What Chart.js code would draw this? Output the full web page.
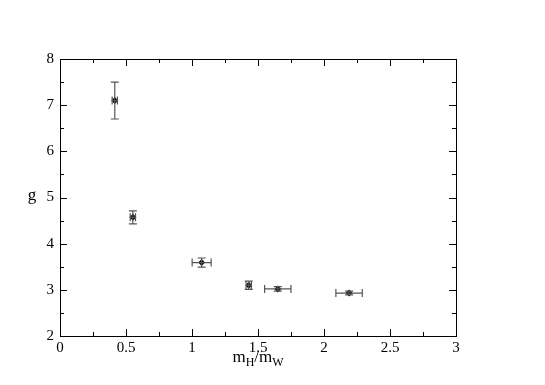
<!DOCTYPE html>
<html>
<head>
<meta charset="utf-8">
<script src="https://cdn.jsdelivr.net/npm/chart.js@4"></script>
<style>
  html, body { margin: 0; padding: 0; background: #fff; }
  #wrap { width: 545px; height: 385px; }
</style>
</head>
<body>
<div id="wrap"><canvas id="mainChart" width="545" height="385"></canvas></div>
<script>
// mass ratio m_H/m_W, coupling g and their errors
const massRatio = [0.415, 0.552, 1.073, 1.43, 1.65, 2.19]
const massRatioErr = [0.02, 0.02, 0.072, 0.02, 0.1, 0.1]
const coupling = [7.1, 4.57, 3.59, 3.1, 3.02, 2.93]
const couplingErr = [0.4, 0.14, 0.1, 0.09, 0.05, 0.04]

const xTicks = [0, 0.5, 1, 1.5, 2, 2.5, 3]
const yTicks = [2, 3, 4, 5, 6, 7, 8]

let serifFont = "'Liberation Serif', 'DejaVu Serif', serif"

// error bars, drawn through the chart's own scales
const errorBarPlugin = {
    id: 'errorBars',
    afterDatasetsDraw(chart) {
        const ctx = chart.ctx
        const xs = chart.scales.x
        const ys = chart.scales.y
        ctx.save()
        ctx.strokeStyle = '#555'
        ctx.lineWidth = 1.2
        let cap = 4
        massRatio.forEach((mx, i) => {
            let px = xs.getPixelForValue(mx)
            let py = ys.getPixelForValue(coupling[i])
            let xl = xs.getPixelForValue(mx - massRatioErr[i])
            let xr = xs.getPixelForValue(mx + massRatioErr[i])
            let yt = ys.getPixelForValue(coupling[i] + couplingErr[i])
            let yb = ys.getPixelForValue(coupling[i] - couplingErr[i])
            ctx.beginPath()
            ctx.moveTo(xl, py); ctx.lineTo(xr, py)
            ctx.moveTo(xl, py - cap); ctx.lineTo(xl, py + cap)
            ctx.moveTo(xr, py - cap); ctx.lineTo(xr, py + cap)
            ctx.moveTo(px, yt); ctx.lineTo(px, yb)
            ctx.moveTo(px - cap, yt); ctx.lineTo(px + cap, yt)
            ctx.moveTo(px - cap, yb); ctx.lineTo(px + cap, yb)
            ctx.stroke()
        })
        ctx.restore()
    }
}

// frame, inward ticks on all four sides and the axis titles
const framePlugin = {
    id: 'frame',
    afterDraw(chart) {
        const ctx = chart.ctx
        const a = chart.chartArea
        const xs = chart.scales.x
        const ys = chart.scales.y
        ctx.save()
        ctx.strokeStyle = '#000'
        ctx.lineWidth = 1
        ctx.strokeRect(a.left + 0.5, a.top + 0.5, a.right - a.left, a.bottom - a.top)
        ctx.beginPath()
        for (let v = 0; v <= 3.0001; v += 0.25) {
            let px = Math.round(xs.getPixelForValue(v)) + 0.5
            let len = (Math.abs(v * 2 - Math.round(v * 2)) < 0.01) ? 7 : 4
            ctx.moveTo(px, a.bottom); ctx.lineTo(px, a.bottom - len)
            ctx.moveTo(px, a.top); ctx.lineTo(px, a.top + len)
        }
        for (let v = 2; v <= 8.0001; v += 0.5) {
            let py = Math.round(ys.getPixelForValue(v)) + 0.5
            let len = (Math.abs(v - Math.round(v)) < 0.01) ? 7 : 4
            ctx.moveTo(a.left, py); ctx.lineTo(a.left + len, py)
            ctx.moveTo(a.right, py); ctx.lineTo(a.right - len, py)
        }
        ctx.stroke()

        ctx.fillStyle = '#000'
        ctx.textBaseline = 'alphabetic'
        // y title
        ctx.font = '17px ' + serifFont
        ctx.textAlign = 'center'
        ctx.fillText('g', 32, 200)
        // x title m_H/m_W
        let cx = (a.left + a.right) / 2
        let big = '17px ' + serifFont
        let small = '12px ' + serifFont
        let parts = [['m', big, 0], ['H', small, 4], ['/m', big, 0], ['W', small, 4]]
        let total = 0
        parts.forEach(p => { ctx.font = p[1]; total += ctx.measureText(p[0]).width })
        let x = cx - total / 2
        ctx.textAlign = 'left'
        parts.forEach(p => {
            ctx.font = p[1]
            ctx.fillText(p[0], x, 362 + p[2])
            x += ctx.measureText(p[0]).width
        })
        ctx.restore()
    }
}

function makeChart(chartId) {
    const ctx = document.getElementById(chartId).getContext('2d')
    const points = massRatio.map((mx, i) => ({ x: mx, y: coupling[i] }))
    window.myChart = new Chart(ctx, {
        type: 'scatter',
        data: {
            datasets: [{
                data: points,
                backgroundColor: '#000',
                borderColor: '#000',
                pointStyle: 'rectRot',
                pointRadius: 3.5,
                borderWidth: 0
            }]
        },
        options: {
            responsive: false,
            animation: false,
            layout: { padding: { top: 59, right: 89, left: 0, bottom: 0 } },
            plugins: { legend: { display: false }, tooltip: { enabled: false } },
            scales: {
                x: {
                    type: 'linear', min: 0, max: 3,
                    afterBuildTicks: axis => { axis.ticks = xTicks.map(v => ({ value: v })) },
                    afterFit: axis => { axis.height = 49 },
                    grid: { display: false, drawTicks: false },
                    border: { display: false },
                    ticks: {
                        color: '#000', padding: 3, maxRotation: 0,
                        font: { family: serifFont, size: 15 },
                        callback: v => String(v)
                    }
                },
                y: {
                    type: 'linear', min: 2, max: 8,
                    afterBuildTicks: axis => { axis.ticks = yTicks.map(v => ({ value: v })) },
                    afterFit: axis => { axis.width = 60 },
                    grid: { display: false, drawTicks: false },
                    border: { display: false },
                    ticks: {
                        color: '#000', padding: 6,
                        font: { family: serifFont, size: 15 },
                        callback: v => String(v)
                    }
                }
            }
        },
        plugins: [errorBarPlugin, framePlugin]
    })
}

makeChart('mainChart')
</script>
</body>
</html>
